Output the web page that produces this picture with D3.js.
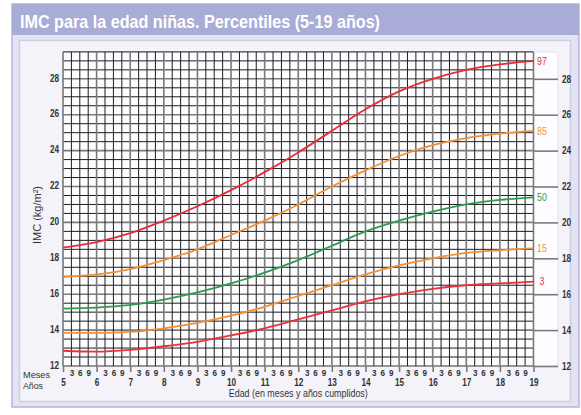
<!DOCTYPE html>
<html><head><meta charset="utf-8">
<script src="https://cdn.jsdelivr.net/npm/d3@7"></script>
<style>
body{margin:0;background:#fff;}
svg{display:block;}
text{font-family:'Liberation Sans',Arial,sans-serif;}
</style>
</head><body>
<svg id="c" width="581" height="415"></svg>
<script>
// ---- data ----
const title = "IMC para la edad niñas. Percentiles (5-19 años)";
const ages = [5,6,7,8,9,10,11,12,13,14,15,16,17,18,19];
const p3  = [12.85,12.8,12.9,13.1,13.35,13.7,14.1,14.6,15.1,15.6,16.0,16.3,16.5,16.6,16.7];
const p15 = [13.85,13.85,13.9,14.1,14.4,14.8,15.3,15.9,16.5,17.1,17.6,18.0,18.3,18.45,18.55];
const p50 = [15.2,15.25,15.4,15.7,16.1,16.6,17.2,17.9,18.7,19.5,20.1,20.6,21.0,21.25,21.4];
const p85 = [16.95,17.1,17.4,17.9,18.5,19.3,20.1,21.0,22.0,22.9,23.7,24.3,24.7,24.95,25.1];
const p97 = [18.6,18.9,19.4,20.1,20.9,21.8,22.8,23.9,25.1,26.3,27.3,28.0,28.5,28.8,29.0];
const percentileNames = ["3","15","50","85","97"];
const percentileValues = [p3,p15,p50,p85,p97];
const yTickValues = [12,14,16,18,20,22,24,26,28];
const monthLabels = ["3","6","9"];
const yTitle = "IMC (kg/m²)";
const xTitle = "Edad (en meses y años cumplidos)";
const mesesLabel = "Meses";
const anosLabel = "Años";

// ---- styles ----
const colors = {"3":"#e8323a","15":"#f39035","50":"#2e9c50","85":"#f39035","97":"#ec2a36"};

const svg = d3.select("#c");

// condense text horizontally (narrow font look)
function narrow(sel, ratio){
  sel.each(function(){
    const L = this.getComputedTextLength();
    d3.select(this).attr("textLength", L*ratio).attr("lengthAdjust","spacingAndGlyphs");
  });
}

// frame
svg.append("rect").attr("x",12).attr("y",4).attr("width",567).attr("height",403)
  .attr("fill","#e3e3f2").attr("stroke","#b4b6dc").attr("stroke-width",1.5);
svg.append("rect").attr("x",12).attr("y",4).attr("width",567).attr("height",31)
  .attr("fill","#a9acd7");
svg.append("text").attr("x",20).attr("y",28).text(title)
  .attr("fill","#fff").attr("font-weight","bold").attr("font-size",18.5)
  .attr("textLength",360).attr("lengthAdjust","spacingAndGlyphs");
svg.append("rect").attr("x",19.5).attr("y",40.5).attr("width",551).attr("height",361)
  .attr("fill","#f3f3f9").attr("stroke","#cdcde7").attr("stroke-width",1.5);

const x = d3.scaleLinear().domain([5,19]).range([63,533.5]);
const y = d3.scaleLinear().domain([12,29.5]).range([366,51.9]);

// white plot box
svg.append("rect").attr("x",x(5)).attr("y",y(29.5)).attr("width",558-x(5)).attr("height",y(12)-y(29.5))
  .attr("fill","#fdfdff").attr("stroke","#e2e2ef");

// grid
const g = svg.append("g");
const hVals = d3.range(12,29.51,0.5);
g.selectAll("line.h").data(hVals).join("line")
  .attr("x1",x(5)).attr("x2",x(19)).attr("y1",d=>y(d)).attr("y2",d=>y(d))
  .attr("stroke",d=>(d%2===0)?"#7a7a7a":"#1e1e1e")
  .attr("stroke-width",d=>(d%2===0)?1.6:1);
const vVals = d3.range(0,14*4+1).map(i=>5+i/4);
g.selectAll("line.v").data(vVals).join("line")
  .attr("x1",d=>x(d)).attr("x2",d=>x(d)).attr("y1",y(12)).attr("y2",y(29.5))
  .attr("stroke",d=>Number.isInteger(d)?"#7a7a7a":"#1e1e1e")
  .attr("stroke-width",d=>Number.isInteger(d)?1.6:1);

// axes
const left = svg.append("g").attr("transform",`translate(${x(5)},0)`)
  .call(d3.axisLeft(y).tickValues(yTickValues).tickSize(0).tickPadding(4).tickFormat(d3.format("d")));
left.select(".domain").remove();
left.selectAll("text").attr("dy","0.22em").attr("font-size",10).attr("font-weight","bold").attr("fill","#333").call(narrow,0.82);

const right = svg.append("g").attr("transform",`translate(${x(19)},0)`)
  .call(d3.axisRight(y).tickValues(yTickValues).tickSize(24.5).tickPadding(4).tickFormat(d3.format("d")));
right.select(".domain").remove();
right.selectAll("line").attr("stroke","#7a7a7a").attr("stroke-width",1.6);
right.selectAll("text").attr("font-size",10).attr("font-weight","bold").attr("fill","#333").call(narrow,0.82);

const bottomYears = svg.append("g").attr("transform",`translate(0,${y(12)})`)
  .call(d3.axisBottom(x).tickValues(ages).tickSize(6).tickPadding(7.2).tickFormat(d3.format("d")));
bottomYears.select(".domain").remove();
bottomYears.selectAll("line").attr("stroke","#7a7a7a").attr("stroke-width",1.6);
bottomYears.selectAll("text").attr("font-size",10).attr("font-weight","bold").attr("fill","#333").call(narrow,0.82);

const monthTicks = vVals.filter(d=>!Number.isInteger(d));
const bottomMonths = svg.append("g").attr("transform",`translate(0,${y(12)})`)
  .call(d3.axisBottom(x).tickValues(monthTicks).tickSize(0).tickPadding(3.4)
    .tickFormat(d=>monthLabels[Math.round((d%1)*4)-1]));
bottomMonths.select(".domain").remove();
bottomMonths.selectAll("text").attr("font-size",9.5).attr("font-weight","bold").attr("fill","#333").call(narrow,0.85);

// labels
svg.append("text").attr("x",23).attr("y",377.5).text(mesesLabel).attr("font-size",9.8).attr("fill","#333")
  .attr("textLength",27).attr("lengthAdjust","spacingAndGlyphs");
svg.append("text").attr("x",23).attr("y",389).text(anosLabel).attr("font-size",9.8).attr("fill","#333")
  .attr("textLength",20).attr("lengthAdjust","spacingAndGlyphs");
svg.append("text").attr("x",(x(5)+x(19))/2).attr("y",397).attr("text-anchor","middle")
  .text(xTitle).attr("font-size",10.5).attr("fill","#333")
  .attr("textLength",139).attr("lengthAdjust","spacingAndGlyphs");
svg.append("text").attr("transform","translate(41,215) rotate(-90)").attr("text-anchor","middle")
  .text(yTitle).attr("font-size",10.5).attr("fill","#333")
  .attr("textLength",58).attr("lengthAdjust","spacingAndGlyphs");

// curves
const line = d3.line().x((d,i)=>x(ages[i])).y(d=>y(d)).curve(d3.curveMonotoneX);
percentileNames.forEach((name,k)=>{
  const vals = percentileValues[k];
  svg.append("path").attr("d",line(vals)).attr("fill","none")
    .attr("stroke",colors[name]).attr("stroke-width",1.8);
  svg.append("text").attr("x",542).attr("y",y(vals[vals.length-1])).attr("dy","0.35em")
    .attr("text-anchor","middle").attr("font-size",10.5).attr("fill",colors[name]).text(name)
    .call(narrow,0.85);
});
</script>
</body></html>
